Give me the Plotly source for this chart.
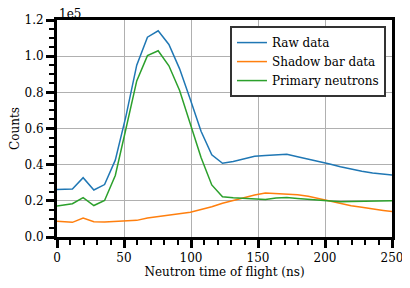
import plotly.graph_objects as go

# Time of flight (ns)
tof = [0, 11.5, 19.5, 27.5, 35.5, 43.5, 51.5, 59.5, 67.5, 75.5, 83.5, 91.5, 99.5,
       107.5, 115.5, 123.5, 131.5, 139.5, 147.5, 155.5, 163.5, 171.5, 179.5, 187.5,
       195.5, 203.5, 211.5, 219.5, 227.5, 235.5, 243.5, 251.5]

raw_data = [26200, 26600, 32800, 26000, 29000, 42500, 67000, 95000, 110500, 114000,
            106500, 93000, 76000, 58500, 45500, 40800, 41800, 43200, 44700, 45100,
            45500, 45700, 44400, 43200, 41800, 40400, 38800, 37500, 36400, 35400,
            34800, 34100]

shadow_bar = [8700, 8100, 10500, 8500, 8300, 8500, 9000, 9200, 10500, 11200, 12000,
              13000, 13700, 15200, 16700, 18700, 20200, 21800, 23200, 24300, 23900,
              23900, 23300, 22500, 21200, 19800, 18600, 17300, 16400, 15400, 14700,
              13900]

primary = [17200, 18400, 21800, 17400, 20200, 34000, 60000, 86300, 100300, 103000,
           94700, 81000, 62500, 44000, 28800, 22200, 21700, 21300, 21100, 20800,
           21600, 21800, 21300, 20800, 20400, 20000, 19500, 19600, 19800, 19800,
           20100, 20100]

series_names = ["Raw data", "Shadow bar data", "Primary neutrons"]
colors = ["#1f77b4", "#ff7f0e", "#2ca02c"]

y_tickvals = [0, 20000, 40000, 60000, 80000, 100000, 120000]
y_ticktext = ["0.0", "0.2", "0.4", "0.6", "0.8", "1.0", "1.2"]
x_tickvals = [0, 50, 100, 150, 200, 250]
x_minor = [10, 20, 30, 40, 60, 70, 80, 90, 110, 120, 130, 140, 160, 170, 180, 190,
           210, 220, 230, 240]
y_minor = [5000, 10000, 15000, 25000, 30000, 35000, 45000, 50000, 55000, 65000,
           70000, 75000, 85000, 90000, 95000, 105000, 110000, 115000]

FONT = "DejaVu Serif"

fig = go.Figure()
for name, ys, c in zip(series_names, [raw_data, shadow_bar, primary], colors):
    fig.add_trace(go.Scatter(x=tof, y=ys, mode="lines", name=name,
                             line=dict(color=c, width=1.5)))

axis_common = dict(showline=True, linecolor="black", linewidth=3, mirror=True,
                   ticks="outside", ticklen=8, tickwidth=3, tickcolor="black",
                   showgrid=True, gridcolor="#b0b0b0", gridwidth=1,
                   zeroline=False, automargin=False,
                   tickfont=dict(family=FONT, size=12, color="black"))

# page body has an 8px default margin, so the figure is 8px smaller and offset
fig.update_layout(
    width=402, height=280,
    margin=dict(l=49, r=18, t=12, b=51),
    paper_bgcolor="white", plot_bgcolor="white",
    font=dict(family=FONT, color="black"),
    showlegend=True,
    legend=dict(x=0.982, y=0.972, xanchor="right", yanchor="top",
                bgcolor="white", bordercolor="#333333", borderwidth=2,
                font=dict(family=FONT, size=12, color="black"),
                tracegroupgap=0, itemwidth=30),
    xaxis=dict(range=[0, 250], tickmode="array", tickvals=x_tickvals,
               title=dict(text="Neutron time of flight (ns)",
                          font=dict(family=FONT, size=12), standoff=2),
               minor=dict(tickmode="array", tickvals=x_minor, ticks="outside",
                          ticklen=5, tickwidth=2, tickcolor="black",
                          showgrid=False),
               **axis_common),
    yaxis=dict(range=[0, 120000], tickmode="array", tickvals=y_tickvals,
               ticktext=y_ticktext,
               title=dict(text="Counts", font=dict(family=FONT, size=12), standoff=4),
               minor=dict(tickmode="array", tickvals=y_minor, ticks="outside",
                          ticklen=5, tickwidth=2, tickcolor="black",
                          showgrid=False),
               **axis_common),
)

fig.add_annotation(text="1e5", x=0, y=1, xref="paper", yref="paper",
                   xanchor="left", yanchor="bottom", showarrow=False,
                   font=dict(family=FONT, size=12, color="black"), yshift=-3)

fig.write_html("out.html")
